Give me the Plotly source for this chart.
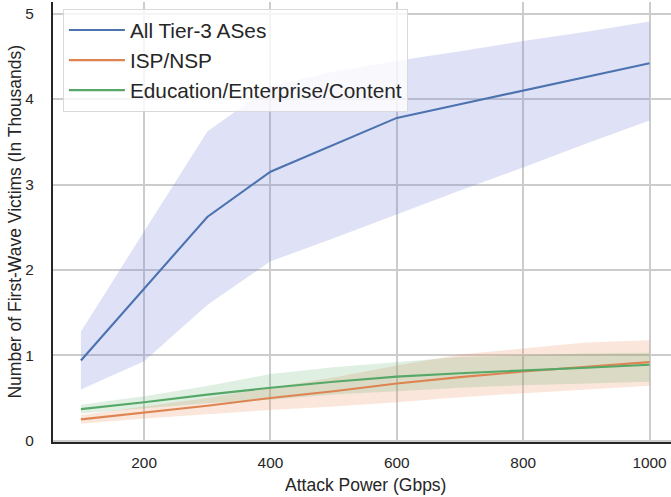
import plotly.graph_objects as go

# ---- data ----
attack_power = [100, 200, 300, 400, 500, 600, 700, 800, 900, 1000]

all_mean = [0.94, 1.78, 2.62, 3.15, 3.465, 3.78, 3.94, 4.10, 4.26, 4.42]
all_lo   = [0.60, 0.93, 1.59, 2.10, 2.37, 2.65, 2.93, 3.20, 3.48, 3.75]
all_hi   = [1.28, 2.45, 3.62, 4.15, 4.32, 4.45, 4.56, 4.68, 4.79, 4.91]

isp_mean = [0.25, 0.33, 0.41, 0.50, 0.58, 0.67, 0.745, 0.81, 0.865, 0.92]
isp_lo   = [0.20, 0.26, 0.31, 0.36, 0.40, 0.45, 0.51, 0.555, 0.60, 0.645]
isp_hi   = [0.30, 0.40, 0.50, 0.62, 0.74, 0.88, 1.01, 1.08, 1.15, 1.175]

edu_mean = [0.37, 0.45, 0.54, 0.62, 0.69, 0.75, 0.79, 0.82, 0.855, 0.89]
edu_lo   = [0.32, 0.38, 0.44, 0.48, 0.54, 0.58, 0.62, 0.65, 0.67, 0.69]
edu_hi   = [0.42, 0.52, 0.64, 0.78, 0.86, 0.92, 0.98, 1.00, 1.02, 1.03]

series_names = ["All Tier-3 ASes", "ISP/NSP", "Education/Enterprise/Content"]
line_colors = ["#4C72B0", "#DD8452", "#55A868"]
band_colors = ["rgba(110,125,215,0.22)", "rgba(236,140,90,0.22)", "rgba(95,175,110,0.20)"]

x_ticks = [200, 400, 600, 800, 1000]
y_ticks = [0, 1, 2, 3, 4, 5]

FONT = "Liberation Sans, Arial, sans-serif"
TXT = "#262626"

fig = go.Figure()

series = [(all_mean, all_lo, all_hi), (isp_mean, isp_lo, isp_hi), (edu_mean, edu_lo, edu_hi)]

# bands first
for (m, lo, hi), bc in zip(series, band_colors):
    fig.add_trace(go.Scatter(x=attack_power, y=lo, mode="lines", line=dict(width=0),
                             showlegend=False, hoverinfo="skip"))
    fig.add_trace(go.Scatter(x=attack_power, y=hi, mode="lines", line=dict(width=0),
                             fill="tonexty", fillcolor=bc, showlegend=False, hoverinfo="skip"))

# lines
for (m, lo, hi), name, lc in zip(series, series_names, line_colors):
    fig.add_trace(go.Scatter(x=attack_power, y=m, mode="lines", name=name,
                             line=dict(color=lc, width=2.1)))

fig.update_layout(
    width=671, height=497,
    margin=dict(l=53, r=0, t=2, b=55),
    paper_bgcolor="white", plot_bgcolor="white",
    font=dict(family=FONT, color=TXT),
    showlegend=True,
    legend=dict(
        x=0.016, y=0.984, xanchor="left", yanchor="top",
        traceorder="normal",
        bgcolor="rgba(255,255,255,0.8)", bordercolor="#d9d9d9", borderwidth=1,
        font=dict(size=20.8, family=FONT, color=TXT),
        tracegroupgap=0, itemwidth=56,
    ),
    xaxis=dict(
        range=[55.8, 1034], tickvals=x_ticks, ticktext=[str(v) for v in x_ticks],
        showgrid=True, gridcolor="#cccccc", gridwidth=1.5,
        showline=True, linecolor="#262626", linewidth=2,
        ticks="outside", ticklen=6, tickcolor="rgba(0,0,0,0)",
        tickfont=dict(size=15.4, family=FONT, color=TXT), zeroline=False,
    ),
    yaxis=dict(
        range=[-0.015, 5.137], tickvals=y_ticks, ticktext=[str(v) for v in y_ticks],
        showgrid=True, gridcolor="#cccccc", gridwidth=1.5,
        showline=True, linecolor="#262626", linewidth=2,
        ticks="outside", ticklen=14, tickcolor="rgba(0,0,0,0)",
        tickfont=dict(size=15.4, family=FONT, color=TXT), zeroline=False,
    ),
    annotations=[
        dict(text="Attack Power (Gbps)", xref="paper", yref="paper",
             x=0.505, y=-0.0977, xanchor="center", yanchor="middle",
             showarrow=False, font=dict(size=17.5, family=FONT, color=TXT)),
        dict(text="Number of First-Wave Victims (In Thousands)", xref="paper", yref="paper",
             x=-0.0615, y=0.501, xanchor="center", yanchor="middle", textangle=-90,
             showarrow=False, font=dict(size=17.5, family=FONT, color=TXT)),
    ],
)

fig.write_html("out.html", config={"displayModeBar": False},
               post_script="document.body.style.margin='0';document.body.style.overflow='hidden';")
